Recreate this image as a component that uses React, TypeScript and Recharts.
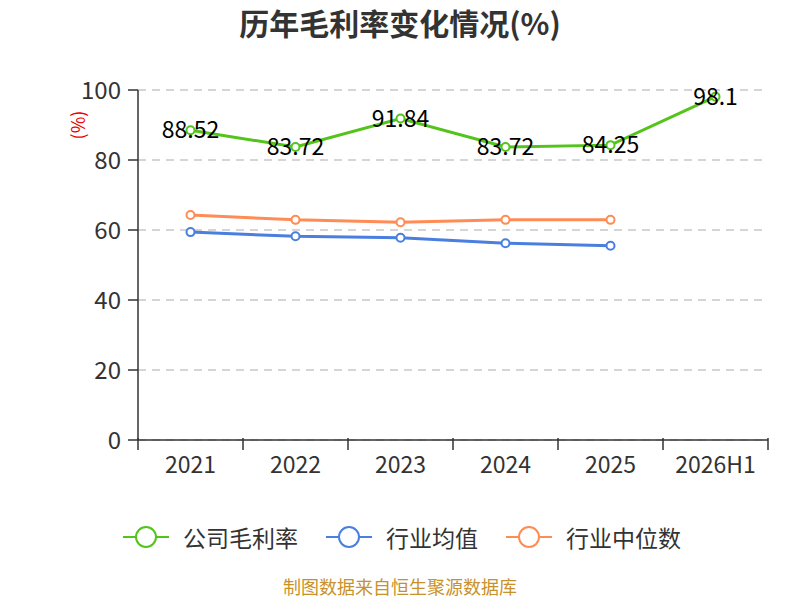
import React from 'react';
import { LineChart, Line, XAxis, YAxis, CartesianGrid, LabelList } from 'recharts';

const categories = ['2021', '2022', '2023', '2024', '2025', '2026H1'];
const companyMargin = [88.52, 83.72, 91.84, 83.72, 84.25, 98.1];
const industryAvg = [59.4, 58.2, 57.8, 56.2, 55.5, null];
const industryMedian = [64.3, 62.9, 62.2, 62.9, 62.9, null];
const yTicks = [0, 20, 40, 60, 80, 100];

const seriesNames = ['公司毛利率', '行业均值', '行业中位数'];
const seriesColors = ['#52c41a', '#4a7fe0', '#ff8c55'];

const data = categories.map((c, i) => ({
  name: c,
  company: companyMargin[i],
  avg: industryAvg[i],
  median: industryMedian[i],
}));

const FONT = '"Noto Sans CJK SC", "Noto Sans", sans-serif';

const XTick = (props: any) => {
  const { x, y, payload, index, visibleTicksCount, width } = props;
  const band = width / visibleTicksCount;
  const lx = x - band / 2;
  return (
    <g>
      <line x1={lx} y1={y - 10} x2={lx} y2={y + 2} stroke="#333" strokeWidth={1.5} />
      {index === visibleTicksCount - 1 && (
        <line x1={lx + band} y1={y - 10} x2={lx + band} y2={y + 2} stroke="#333" strokeWidth={1.5} />
      )}
      <text x={x} y={y + 25} textAnchor="middle" fontSize={23} fill="#333" fontFamily={FONT}>
        {payload.value}
      </text>
    </g>
  );
};

const ValueLabel = (props: any) => {
  const { x, y, value } = props;
  if (value == null) return null;
  return (
    <text x={x} y={y - 2} textAnchor="middle" dominantBaseline="central" fontSize={23} fill="#000" fontFamily={FONT}>
      {value}
    </text>
  );
};

const LegendIcon = ({ color }: { color: string }) => (
  <svg width={46} height={24} style={{ display: 'block' }}>
    <line x1={0} y1={12} x2={46} y2={12} stroke={color} strokeWidth={2} />
    <circle cx={23} cy={12} r={10} fill="#fff" stroke={color} strokeWidth={2} />
  </svg>
);

export default function App() {
  const legendX = [123, 326, 506];
  return (
    <div style={{ position: 'absolute', left: 0, top: 0, width: 800, height: 600, background: '#fff', fontFamily: FONT }}>
      <div style={{ position: 'absolute', left: 0, top: 2, width: 800, textAlign: 'center', fontSize: 30, fontWeight: 'bold', color: '#333', lineHeight: '40px' }}>
        历年毛利率变化情况(%)
      </div>
      <div style={{ position: 'absolute', left: 62, top: 112, width: 30, height: 26, color: '#e00', fontSize: 18, lineHeight: '26px', transform: 'rotate(-90deg)', textAlign: 'center', whiteSpace: 'nowrap' }}>
        (%)
      </div>
      <LineChart width={800} height={600} data={data} margin={{ top: 90, right: 32, bottom: 120, left: 0 }}>
        <CartesianGrid vertical={false} stroke="#c8c8c8" strokeDasharray="8 6" strokeWidth={1.5} />
        <XAxis dataKey="name" scale="band" axisLine={{ stroke: '#333', strokeWidth: 1.5 }} tickLine={false} tick={<XTick />} height={40} interval={0} />
        <YAxis domain={[0, 100]} ticks={yTicks} width={138} tickSize={10} tickMargin={7} axisLine={{ stroke: '#333', strokeWidth: 1.5 }} tickLine={{ stroke: '#333', strokeWidth: 1.5 }} tick={{ fontSize: 24, fill: '#333', fontFamily: FONT }} interval={0} />
        <Line dataKey="median" stroke={seriesColors[2]} strokeWidth={3} dot={{ r: 4, fill: '#fff', stroke: seriesColors[2], strokeWidth: 2 }} isAnimationActive={false} />
        <Line dataKey="avg" stroke={seriesColors[1]} strokeWidth={3} dot={{ r: 4, fill: '#fff', stroke: seriesColors[1], strokeWidth: 2 }} isAnimationActive={false} />
        <Line dataKey="company" stroke={seriesColors[0]} strokeWidth={3} dot={{ r: 4, fill: '#fff', stroke: seriesColors[0], strokeWidth: 2 }} isAnimationActive={false}>
          <LabelList dataKey="company" content={<ValueLabel />} />
        </Line>
      </LineChart>
      {seriesNames.map((n, i) => (
        <div key={n} style={{ position: 'absolute', left: legendX[i], top: 523, display: 'flex', alignItems: 'center', height: 28 }}>
          <LegendIcon color={seriesColors[i]} />
          <span style={{ marginLeft: 14, fontSize: 23, color: '#333', lineHeight: '28px' }}>{n}</span>
        </div>
      ))}
      <div style={{ position: 'absolute', left: 0, top: 576, width: 800, textAlign: 'center', fontSize: 18, color: '#c8922a', lineHeight: '20px' }}>
        制图数据来自恒生聚源数据库
      </div>
    </div>
  );
}
